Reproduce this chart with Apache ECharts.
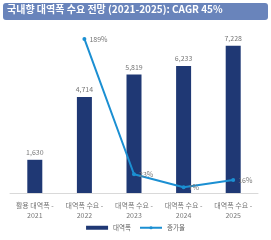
<!DOCTYPE html>
<html>
<head>
<meta charset="utf-8">
<script src="https://cdn.jsdelivr.net/npm/echarts@6/dist/echarts.min.js"></script>
<style>
  html, body { margin: 0; padding: 0; background: #fff; }
  #chart { width: 271px; height: 240px; }
</style>
</head>
<body>
<div id="chart"></div>
<script>
const categories = ["활용 대역폭 -\n2021", "대역폭 수요 -\n2022", "대역폭 수요 -\n2023", "대역폭 수요 -\n2024", "대역폭 수요 -\n2025"];
const bandwidth = [1630, 4714, 5819, 6233, 7228];
const growth = [null, 189, 23, 7, 16];

const font = "'Noto Sans CJK KR', 'Noto Sans', sans-serif";
const chart = echarts.init(document.getElementById("chart"), null, { renderer: "canvas" });

const option = {
  backgroundColor: "#fff",
  textStyle: { fontFamily: font },
  animation: false,
  graphic: [
    {
      type: "rect",
      left: 3,
      top: 3,
      shape: { width: 265, height: 17, r: 3 },
      style: { fill: "#6984bb" },
      z: 0
    }
  ],
  title: {
    text: "국내향 대역폭 수요 전망 (2021-2025): CAGR 45%",
    left: 7,
    top: 4,
    padding: 0,
    textStyle: { color: "#fff", fontSize: 10, fontWeight: "bold", fontFamily: font }
  },
  legend: {
    bottom: 4,
    left: "center",
    itemWidth: 22,
    itemHeight: 4,
    itemGap: 8,
    textStyle: { fontSize: 6.5, color: "#666", fontFamily: font },
    data: [
      { name: "대역폭", icon: "rect" },
      { name: "증가율" }
    ]
  },
  grid: { left: 10, right: 13, top: 30, bottom: 47, containLabel: false },
  xAxis: {
    type: "category",
    data: categories,
    axisLine: { lineStyle: { color: "#d9d9d9" } },
    axisTick: { show: false },
    axisLabel: { color: "#777", fontSize: 7, lineHeight: 10, interval: 0, margin: 7 }
  },
  yAxis: [
    { type: "value", min: 0, max: 8000, show: false, splitLine: { show: false } },
    { type: "value", min: 0, max: 200, show: false, splitLine: { show: false } }
  ],
  series: [
    {
      name: "대역폭",
      type: "bar",
      data: bandwidth,
      barWidth: 15,
      itemStyle: { color: "#1f3874" },
      label: {
        show: true,
        position: "top",
        distance: 4,
        color: "#777",
        fontSize: 7,
        formatter: (p) => p.value.toLocaleString("en-US")
      }
    },
    {
      name: "증가율",
      type: "line",
      yAxisIndex: 1,
      data: growth,
      symbol: "circle",
      symbolSize: 4,
      lineStyle: { color: "#1b8fd2", width: 2 },
      itemStyle: { color: "#1b8fd2" },
      label: {
        show: true,
        position: "right",
        distance: 3,
        color: "#777",
        fontSize: 7,
        formatter: (p) => p.value + "%"
      },
      z: 5
    }
  ]
};

chart.setOption(option);
</script>
</body>
</html>
